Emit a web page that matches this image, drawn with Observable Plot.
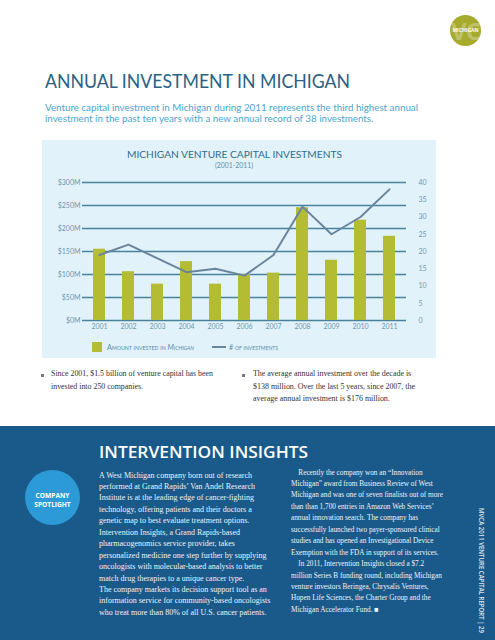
<!DOCTYPE html>
<html><head><meta charset="utf-8">
<script src="https://cdn.jsdelivr.net/npm/d3@7"></script>
<script src="https://cdn.jsdelivr.net/npm/@observablehq/plot@0.6"></script>
<style>
html,body{margin:0;padding:0;background:#fff;}
body{width:495px;height:640px;position:relative;overflow:hidden;font-family:Lato,sans-serif;}
.abs{position:absolute;white-space:nowrap;transform-origin:0 0;}
.blk{position:absolute;transform-origin:0 0;}
.blk div{white-space:nowrap;}
.blk span,.abs span{display:inline-block;}
.serif{font-family:"Liberation Serif","DejaVu Serif",serif;}
</style></head><body>

<!-- logo -->
<div class="abs" style="left:450px;top:15px;width:31px;height:31px;border-radius:50%;background:#a6aa2d;overflow:hidden;">
  <div style="position:absolute;left:0;top:0;width:31px;text-align:center;font:bold 24px/31px 'Open Sans',sans-serif;color:rgba(255,255,255,0.28);letter-spacing:-1px;">VC</div>
  <div style="position:absolute;left:0;top:11px;width:31px;text-align:center;font:bold 5px/8px 'Open Sans',sans-serif;color:#fff;">MICHIGAN</div>
</div>

<div class="abs" id="title" data-w="305" style="left:45px;top:70.5px;font-size:19.5px;line-height:20px;color:#2b6185;"><span>ANNUAL INVESTMENT IN MICHIGAN</span></div>

<div class="blk" data-w="373" style="left:45px;top:101.8px;font-size:9.5px;line-height:11px;color:#4aa5cf;">
  <div><span>Venture capital investment in Michigan during 2011 represents the third highest annual</span></div>
  <div><span>investment in the past ten years with a new annual record of 38 investments.</span></div>
</div>

<!-- chart panel -->
<div class="abs" style="left:42px;top:140px;width:394px;height:218px;background:#e1f2fb;"></div>
<div class="abs" data-w="215" style="left:126.7px;top:148.3px;font-size:10px;line-height:12px;color:#2f6d8d;"><span>MICHIGAN VENTURE CAPITAL INVESTMENTS</span></div>
<div class="abs" data-w="38" style="left:215px;top:160.5px;font-size:7.5px;line-height:9px;color:#5e8ea6;"><span>(2001-2011)</span></div>
<div id="chart" class="abs" style="left:42px;top:172px;"></div>

<!-- legend -->
<div class="abs" style="left:91.7px;top:342px;width:10px;height:10px;background:#b4bc33;"></div>
<div class="abs" data-w="87" style="left:107px;top:343px;font-size:7px;line-height:8px;color:#5a8ca3;font-variant:small-caps;"><span>Amount invested in <i>Michigan</i></span></div>
<div class="abs" style="left:212px;top:346px;width:14px;height:2px;background:#6a84a0;"></div>
<div class="abs" data-w="49" style="left:228.7px;top:343px;font-size:7px;line-height:8px;color:#5a8ca3;font-variant:small-caps;"><span># of investments</span></div>

<!-- bullets -->
<div class="abs" style="left:41.3px;top:373.8px;width:3px;height:3px;background:#7a7a7a;"></div>
<div class="blk serif" data-w="162" style="left:50.7px;top:368.3px;font-size:7.8px;line-height:12.4px;color:#333;">
  <div><span>Since 2001, $1.5 billion of venture capital has been</span></div>
  <div><span>invested into 250 companies.</span></div>
</div>
<div class="abs" style="left:241.8px;top:373.8px;width:3px;height:3px;background:#7a7a7a;"></div>
<div class="blk serif" data-w="162" data-ref="1" style="left:253.3px;top:368.3px;font-size:7.8px;line-height:12.4px;color:#333;">
  <div><span>The average annual investment over the decade is</span></div>
  <div><span>$138 million. Over the last 5 years, since 2007, the</span></div>
  <div><span>average annual investment is $176 million.</span></div>
</div>

<!-- blue section -->
<div class="abs" style="left:0;top:426px;width:495px;height:214px;background:#1a5a8b;"></div>
<div class="abs" style="left:25px;top:470px;width:55px;height:55px;border-radius:50%;background:#2b9ad6;"></div>
<div class="abs" style="left:25px;top:491.5px;width:55px;text-align:center;font:bold 6.6px/7px 'Open Sans',sans-serif;color:#fff;">COMPANY</div>
<div class="abs" style="left:25px;top:500.8px;width:55px;text-align:center;font:bold 6.6px/7px 'Open Sans',sans-serif;color:#fff;">SPOTLIGHT</div>

<div class="abs" data-w="209" style="left:99.3px;top:441.5px;font-size:16px;line-height:20px;font-family:'Open Sans',sans-serif;font-weight:600;color:#fff;"><span>INTERVENTION INSIGHTS</span></div>

<div class="blk serif" data-w="156" data-ref="1" style="left:99.3px;top:469.5px;font-size:7.9px;line-height:11.45px;color:#eef3f7;">
  <div><span>A West Michigan company born out of research</span></div>
  <div><span>performed at Grand Rapids’ Van Andel Research</span></div>
  <div><span>Institute is at the leading edge of cancer-fighting</span></div>
  <div><span>technology, offering patients and their doctors a</span></div>
  <div><span>genetic map to best evaluate treatment options.</span></div>
  <div><span>Intervention Insights, a Grand Rapids-based</span></div>
  <div><span>pharmacogenomics service provider, takes</span></div>
  <div><span>personalized medicine one step further by supplying</span></div>
  <div><span>oncologists with molecular-based analysis to better</span></div>
  <div><span>match drug therapies to a unique cancer type.</span></div>
  <div><span>The company markets its decision support tool as an</span></div>
  <div><span>information service for community-based oncologists</span></div>
  <div><span>who treat more than 80% of all U.S. cancer patients.</span></div>
</div>

<div class="blk serif" data-w="152" data-ref="2" style="left:291px;top:466.5px;font-size:7.9px;line-height:11.45px;color:#eef3f7;">
  <div><span style="padding-left:8px">Recently the company won an “Innovation</span></div>
  <div><span>Michigan” award from Business Review of West</span></div>
  <div><span>Michigan and was one of seven finalists out of more</span></div>
  <div><span>than than 1,700 entries in Amazon Web Services’</span></div>
  <div><span>annual innovation search. The company has</span></div>
  <div><span>successfully launched two payer-sponsored clinical</span></div>
  <div><span>studies and has opened an Investigational Device</span></div>
  <div><span>Exemption with the FDA in support of its services.</span></div>
  <div><span style="padding-left:8px">In 2011, Intervention Insights closed a $7.2</span></div>
  <div><span>million Series B funding round, including Michigan</span></div>
  <div><span>venture investors Beringea, Chrysalis Ventures,</span></div>
  <div><span>Hopen Life Sciences, the Charter Group and the</span></div>
  <div><span>Michigan Accelerator Fund. ■</span></div>
</div>

<div class="abs" id="vert" data-h="125" style="left:477px;top:508px;writing-mode:vertical-rl;font:600 6.4px/8px 'Open Sans',sans-serif;color:#dfe8f0;"><span>MVCA 2011 VENTURE CAPITAL REPORT | 29</span></div>

<script>
const years = ["2001","2002","2003","2004","2005","2006","2007","2008","2009","2010","2011"];
const amounts = [155, 106, 79, 128, 79, 100, 103, 245, 131, 218, 183]; // $M
const counts = [19, 22, 18, 14, 15, 13, 19, 33, 25, 30, 38];           // # of investments
const amountTicks = [0, 50, 100, 150, 200, 250, 300];
const countTicks = [0, 5, 10, 15, 20, 25, 30, 35, 40];
const amountMax = 300, countMax = 40;
const k = amountMax / countMax; // right axis mapped onto left axis

const data = years.map((year, i) => ({year, amount: amounts[i], count: counts[i]}));
const labelColor = "#7197ab";

const chart = Plot.plot({
  width: 394, height: 165,
  marginLeft: 40, marginRight: 30, marginTop: 10, marginBottom: 17,
  style: {background: "transparent", fontFamily: "Lato, sans-serif", overflow: "visible"},
  x: {type: "band", domain: years, paddingInner: 0.6, paddingOuter: 0.29, label: null},
  y: {domain: [0, amountMax], label: null},
  marks: [
    Plot.ruleY(amountTicks, {stroke: "#4a8399", strokeWidth: 1.5}),
    Plot.barY(data, {x: "year", y: "amount", fill: "#b4bc33"}),
    Plot.line(data, {x: "year", y: d => d.count * k, stroke: "#6a84a0", strokeWidth: 2}),
    Plot.axisY({ticks: amountTicks, tickFormat: d => `$${d}M`, tickSize: 0, tickPadding: 2, fontSize: 7, color: labelColor, label: null}),
    Plot.axisY({anchor: "right", ticks: countTicks.map(c => c * k), tickFormat: d => String(Math.round(d / k)), tickSize: 0, tickPadding: 12, fontSize: 7, color: labelColor, label: null, textAnchor: "start"}),
    Plot.axisX({tickSize: 0, tickPadding: 4, fontSize: 7, color: labelColor, label: null})
  ]
});
document.getElementById("chart").appendChild(chart);

// fit text widths to the reference
document.querySelectorAll("[data-w]").forEach(el => {
  const target = +el.dataset.w;
  const spans = el.querySelectorAll("span");
  const ref = spans[+(el.dataset.ref || 0)];
  const w = ref.getBoundingClientRect().width;
  if (w > 0) el.style.transform = `scaleX(${target / w})`;
});
document.querySelectorAll("[data-h]").forEach(el => {
  const target = +el.dataset.h;
  const h = el.querySelector("span").getBoundingClientRect().height;
  if (h > target) el.style.transform = `scaleY(${target / h})`;
});
</script>
</body></html>
